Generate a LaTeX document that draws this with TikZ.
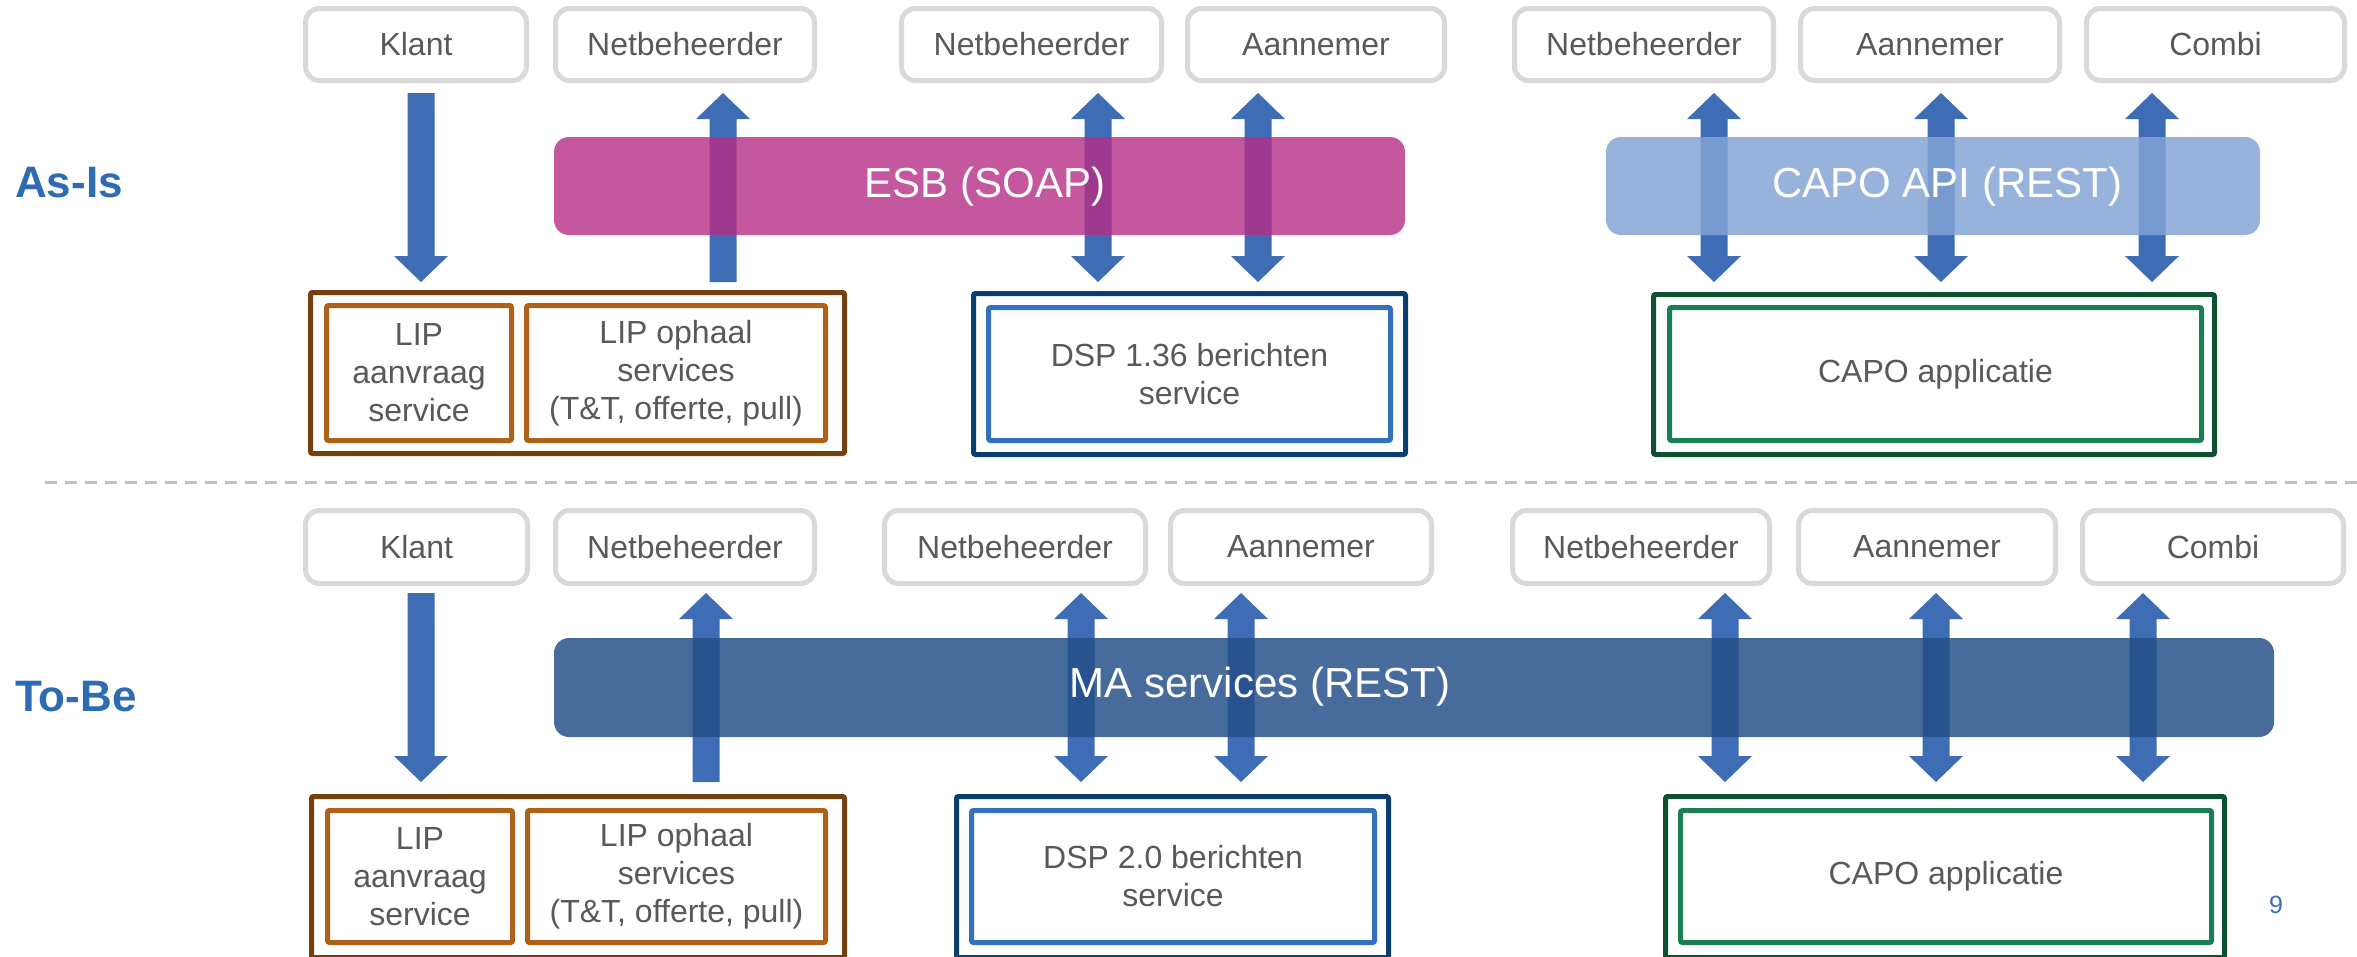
\documentclass[tikz,border=0pt]{standalone}
\usepackage{fontspec}
\setmainfont{Liberation Sans}
\definecolor{tagline}{HTML}{D9D9D9}
\definecolor{txtgray}{HTML}{595959}
\definecolor{arrblue}{HTML}{3E6DB5}
\definecolor{esbc}{HTML}{B62D86}
\definecolor{capoc}{HTML}{84A4D5}
\definecolor{mac}{HTML}{244F87}
\definecolor{lipout}{HTML}{74400E}
\definecolor{lipin}{HTML}{B06119}
\definecolor{dspout}{HTML}{0A3D70}
\definecolor{dspin}{HTML}{3370BD}
\definecolor{capoout}{HTML}{0E5030}
\definecolor{capoin}{HTML}{1A7F52}
\definecolor{headblue}{HTML}{2D6CB5}
\definecolor{dashgray}{HTML}{BFBFBF}
\tikzset{
  tagbox/.style={draw=tagline, line width=5pt, rounded corners=14pt, fill=white,
    text=txtgray, font=\fontsize{32}{38}\selectfont, inner sep=0pt},
  framebox/.style={line width=5pt, rounded corners=2pt, inner sep=0pt, align=center,
    text=txtgray, font=\fontsize{32}{38}\selectfont},
  barbox/.style={draw=none, rounded corners=15pt, inner sep=0pt},
  bartext/.style={text=white, font=\fontsize{42}{48}\selectfont, inner sep=0pt},
  sectitle/.style={text=headblue, font=\bfseries\fontsize{44}{50}\selectfont, inner sep=0pt, anchor=west},
  blockarrow/.style={fill=arrblue, draw=none}
}
% name, x1, x2, y1, y2, text
\newcommand\tagat[6]{\node[tagbox, minimum width={#3-#2-5}, minimum height={#5-#4-5}] (#1) at ({(#2+#3)/2},{(#4+#5)/2}) {#6};}
% name, x1, x2, y1, y2, colour, text
\newcommand\frameat[7]{\node[framebox, draw=#6, minimum width={#3-#2-5}, minimum height={#5-#4-5}] (#1) at ({(#2+#3)/2},{(#4+#5)/2}) {#7};}
% x, ytop, ytip
\newcommand\arrdown[3]{\fill[blockarrow] ({#1-13.5},{#2}) -- ({#1+13.5},{#2}) -- ({#1+13.5},{#3-26}) -- ({#1+27},{#3-26}) -- ({#1},{#3}) -- ({#1-27},{#3-26}) -- ({#1-13.5},{#3-26}) -- cycle;}
% x, ytip, ybottom
\newcommand\arrup[3]{\fill[blockarrow] ({#1-13.5},{#3}) -- ({#1+13.5},{#3}) -- ({#1+13.5},{#2+26}) -- ({#1+27},{#2+26}) -- ({#1},{#2}) -- ({#1-27},{#2+26}) -- ({#1-13.5},{#2+26}) -- cycle;}
% x, ytoptip, ybottomtip
\newcommand\arrboth[3]{\fill[blockarrow] ({#1},{#2}) -- ({#1+27},{#2+26}) -- ({#1+13.5},{#2+26}) -- ({#1+13.5},{#3-26}) -- ({#1+27},{#3-26}) -- ({#1},{#3}) -- ({#1-27},{#3-26}) -- ({#1-13.5},{#3-26}) -- ({#1-13.5},{#2+26}) -- ({#1-27},{#2+26}) -- cycle;}
\begin{document}
\begin{tikzpicture}[x=1pt, y=-1pt]
\useasboundingbox[fill=white] (0,0) rectangle (2357,956);

% section titles and separator
\node[sectitle] (asis) at (15,183) {As-Is};
\node[sectitle] (tobe) at (15,697) {To-Be};
\coordinate (sepL) at (45,482);
\coordinate (sepR) at (2357,482);
\draw[dashgray, line width=3pt, dash pattern=on 12pt off 8pt] (sepL) -- (sepR);

% ================= As-Is =================
\tagat{tK}{303}{529}{6}{83}{Klant}
\tagat{tN1}{553}{817}{6}{83}{Netbeheerder}
\tagat{tN2}{899}{1164}{6}{83}{Netbeheerder}
\tagat{tA1}{1185}{1447}{6}{83}{Aannemer}
\tagat{tN3}{1512}{1776}{6}{83}{Netbeheerder}
\tagat{tA2}{1798}{2062}{6}{83}{Aannemer}
\tagat{tC}{2084}{2347}{6}{83}{Combi}

\arrdown{421}{93}{282}
\arrup{723}{93}{282}
\arrboth{1098}{93}{282}
\arrboth{1258}{93}{282}
\arrboth{1714}{93}{282}
\arrboth{1941}{93}{282}
\arrboth{2152}{93}{282}

\node[barbox, fill=esbc, fill opacity=0.8, minimum width=851, minimum height=98] (esb) at (979.5,186) {};
\node[bartext] (esbt) at (985,187) {ESB (SOAP)};
\node[barbox, fill=capoc, fill opacity=0.84, minimum width=654, minimum height=98] (capoapi) at (1933,186) {};
\node[bartext] (capoapit) at (1947,187) {CAPO API (REST)};

\frameat{tLIP}{308}{847}{290}{456}{lipout}{}
\frameat{tLIPa}{324}{514}{303}{443}{lipin}{LIP\\aanvraag\\service}
\frameat{tLIPo}{524}{828}{303}{443}{lipin}{LIP ophaal\\services\\(T\&T, offerte, pull)}
\frameat{tDSP}{971}{1408}{291}{457}{dspout}{}
\frameat{tDSPi}{986}{1393}{305}{443}{dspin}{DSP 1.36 berichten\\service}
\frameat{tCAPO}{1651}{2217}{292}{457}{capoout}{}
\frameat{tCAPOi}{1667}{2204}{305}{443}{capoin}{CAPO applicatie}

% ================= To-Be =================
\tagat{bK}{303}{530}{508}{586}{Klant}
\tagat{bN1}{553}{817}{508}{586}{Netbeheerder}
\tagat{bN2}{882}{1148}{508}{586}{Netbeheerder}
\tagat{bA1}{1168}{1434}{508}{586}{Aannemer}
\tagat{bN3}{1510}{1772}{508}{586}{Netbeheerder}
\tagat{bA2}{1796}{2058}{508}{586}{Aannemer}
\tagat{bC}{2080}{2346}{508}{586}{Combi}

\arrdown{421}{593}{782}
\arrup{706}{593}{782}
\arrboth{1081}{593}{782}
\arrboth{1241}{593}{782}
\arrboth{1725}{593}{782}
\arrboth{1936}{593}{782}
\arrboth{2143}{593}{782}

\node[barbox, fill=mac, fill opacity=0.84, minimum width=1720, minimum height=99] (ma) at (1414,687.5) {};
\node[bartext] (mat) at (1260,687) {MA services (REST)};

\frameat{bLIP}{309}{847}{794}{960}{lipout}{}
\frameat{bLIPa}{325}{515}{808}{945}{lipin}{LIP\\aanvraag\\service}
\frameat{bLIPo}{525}{828}{808}{945}{lipin}{LIP ophaal\\services\\(T\&T, offerte, pull)}
\frameat{bDSP}{954}{1391}{794}{960}{dspout}{}
\frameat{bDSPi}{969}{1377}{808}{945}{dspin}{DSP 2.0 berichten\\service}
\frameat{bCAPO}{1663}{2227}{794}{960}{capoout}{}
\frameat{bCAPOi}{1678}{2214}{808}{945}{capoin}{CAPO applicatie}

\node[text=arrblue, font=\fontsize{25}{30}\selectfont, inner sep=0pt] (pagenum) at (2276,905) {9};
\end{tikzpicture}
\end{document}
